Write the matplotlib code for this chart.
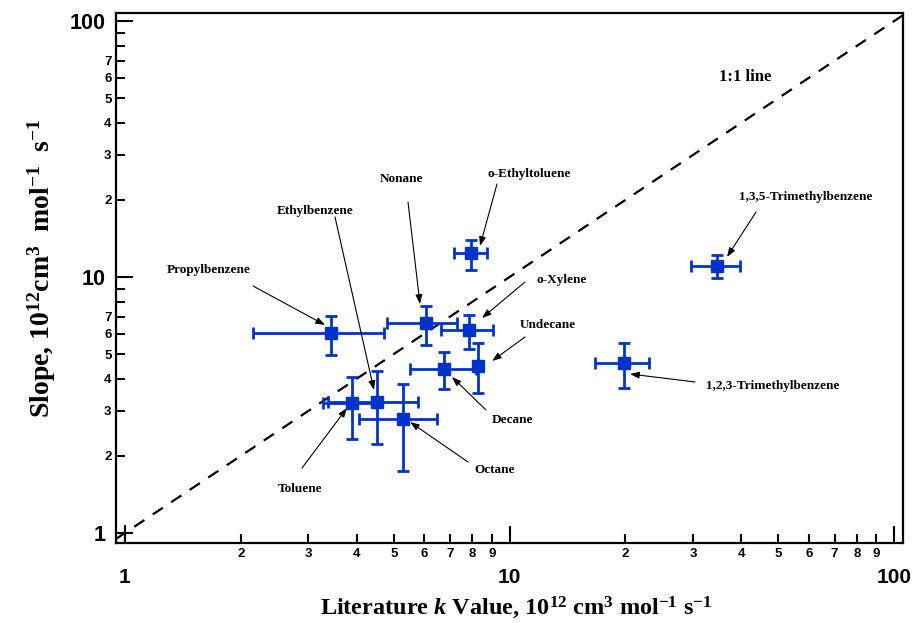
import numpy as np
import matplotlib
matplotlib.use("Agg")
import matplotlib.pyplot as plt
from matplotlib.ticker import FixedLocator, FixedFormatter

plt.rcParams['mathtext.fontset'] = 'custom'
plt.rcParams['mathtext.rm'] = 'Liberation Serif:bold'
plt.rcParams['mathtext.it'] = 'Liberation Serif:bold:italic'
plt.rcParams['mathtext.bf'] = 'Liberation Serif:bold'

# ---- data ----
compounds = ["Propylbenzene", "Nonane", "o-Xylene", "Undecane", "Decane",
             "Toluene", "Ethylbenzene", "Octane", "o-Ethyltoluene",
             "1,3,5-Trimethylbenzene", "1,2,3-Trimethylbenzene"]
lit_k = [3.43, 6.05, 7.86, 8.30, 6.77, 3.90, 4.53, 5.28, 7.94, 34.7, 19.8]
lit_k_low = [2.15, 4.79, 6.63, 8.30, 5.51, 3.28, 3.38, 4.07, 7.17, 29.6, 16.7]
lit_k_high = [4.72, 7.29, 9.08, 8.30, 8.20, 4.50, 5.79, 6.49, 8.76, 39.8, 23.0]
slope = [6.04, 6.59, 6.21, 4.49, 4.37, 3.21, 3.26, 2.78, 12.45, 11.04, 4.60]
slope_low = [4.96, 5.42, 5.25, 3.51, 3.64, 2.32, 2.23, 1.75, 10.65, 9.88, 3.67]
slope_high = [7.04, 7.73, 7.12, 5.51, 5.11, 4.08, 4.31, 3.81, 13.95, 12.19, 5.54]

major_ticks = [1, 10, 100]
major_labels = ["1", "10", "100"]
x_minor_ticks = [2, 3, 4, 5, 6, 7, 8, 9, 20, 30, 40, 50, 60, 70, 80, 90]
x_minor_labels = ["2", "3", "4", "5", "6", "7", "8", "9",
                  "2", "3", "4", "5", "6", "7", "8", "9"]
y_minor_ticks = [2, 3, 4, 5, 6, 7, 8, 9, 20, 30, 40, 50, 60, 70, 80, 90]
y_minor_labels = ["2", "3", "4", "5", "6", "7", "", "",
                  "2", "3", "4", "5", "6", "7", "", ""]

# annotation geometry (figure pixels from top-left): text centre, arrow tail, arrow head
H = 623
annotations = [
    ("Propylbenzene", (209, 270), (253, 286), (325, 325)),
    ("Ethylbenzene", (315, 211), (335, 217), (374, 390)),
    ("Nonane", (401, 179), (408, 202), (420, 304)),
    ("o-Ethyltoluene", (529, 174), (497, 184), (480, 246)),
    ("o-Xylene", (562, 280), (525, 282), (482, 318)),
    ("Undecane", (548, 325), (525, 337), (492, 361)),
    ("Decane", (512, 420), (486, 410), (452, 377)),
    ("Octane", (495, 470), (468, 462), (410, 422)),
    ("Toluene", (300, 489), (302, 468), (347, 408)),
    ("1,3,5-Trimethylbenzene", (806, 197), (756, 212), (727, 257)),
    ("1,2,3-Trimethylbenzene", (773, 386), (695, 382), (630, 374)),
]

fig = plt.figure(figsize=(9.14, 6.23), dpi=100)
ax = fig.add_axes([0.1266, 0.1289, 0.988 - 0.1266, 0.979 - 0.1289])
ax.set_xscale('log')
ax.set_yscale('log')
xmin, xmax = 0.946, 105.5
ymin, ymax = 0.916, 107.5
ax.set_xlim(xmin, xmax)
ax.set_ylim(ymin, ymax)

# 1:1 line
ax.plot([xmin, xmax], [xmin, xmax], color='black', lw=1.6, dashes=(5.5, 4.5))
ax.plot([1], [1], marker='+', color='black', ms=12, mew=1.5)
ax.text(745, H - 77, "1:1 line", transform=None, ha='center', va='center',
        family='Liberation Serif', fontweight='bold', fontsize=12)

lk = np.array(lit_k); sl = np.array(slope)
xerr = [lk - np.array(lit_k_low), np.array(lit_k_high) - lk]
yerr = [sl - np.array(slope_low), np.array(slope_high) - sl]
ax.errorbar(lk, sl, xerr=xerr, yerr=yerr, fmt='s', color='#0033cc',
            ms=8.4, elinewidth=2, capsize=4.3, capthick=2, zorder=3)

for name, tc, tail, head in annotations:
    ax.text(tc[0], H - tc[1], name, transform=None, ha='center', va='center',
            family='Liberation Serif', fontweight='bold', fontsize=9.5)
    ax.annotate('', xy=(head[0], H - head[1]), xycoords='figure pixels',
                xytext=(tail[0], H - tail[1]), textcoords='figure pixels',
                arrowprops=dict(arrowstyle='-|>,head_length=0.55,head_width=0.2',
                                color='black', lw=0.8, shrinkA=0, shrinkB=0))

for s in ax.spines.values():
    s.set_linewidth(1.6)

ax.xaxis.set_major_locator(FixedLocator(major_ticks))
ax.xaxis.set_major_formatter(FixedFormatter(major_labels))
ax.xaxis.set_minor_locator(FixedLocator(x_minor_ticks))
ax.xaxis.set_minor_formatter(FixedFormatter(x_minor_labels))
ax.yaxis.set_major_locator(FixedLocator(major_ticks))
ax.yaxis.set_major_formatter(FixedFormatter(major_labels))
ax.yaxis.set_minor_locator(FixedLocator(y_minor_ticks))
ax.yaxis.set_minor_formatter(FixedFormatter(y_minor_labels))

ax.tick_params(which='major', direction='in', length=12.5, width=1.5,
               top=False, right=False)
ax.tick_params(which='minor', direction='in', length=6.5, width=1.5,
               top=False, right=False)
ax.tick_params(axis='x', which='major', pad=18, labelsize=15)
ax.tick_params(axis='x', which='minor', pad=4, labelsize=9.5)
ax.tick_params(axis='y', which='major', pad=7, labelsize=15.5)
ax.tick_params(axis='y', which='minor', pad=3, labelsize=9.5)
for lab in ax.get_xticklabels(which='both') + ax.get_yticklabels(which='both'):
    lab.set_family('Liberation Sans')
    lab.set_fontweight('bold')

fig.text(516 / 914, 1 - 614 / 623,
         r'Literature $k$ Value, 10$^{12}$ cm$^{3}$ mol$^{-1}$ s$^{-1}$',
         ha='center', va='baseline',
         family='Liberation Serif', fontweight='bold', fontsize=17.5)
fig.text(42 / 914, 1 - 268 / 623,
         r'Slope, 10$^{12}$cm$^{3}$  mol$^{-1}$  s$^{-1}$',
         ha='center', va='center', rotation=90,
         family='Liberation Serif', fontweight='bold', fontsize=20)

fig.savefig('out.png', dpi=100)
